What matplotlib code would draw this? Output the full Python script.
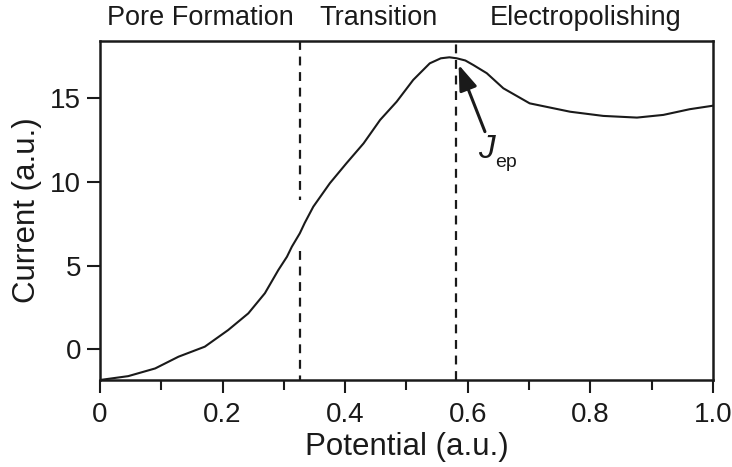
import numpy as np
import matplotlib.pyplot as plt
from matplotlib.ticker import MultipleLocator

plt.rcParams['font.family'] = ['Liberation Sans', 'DejaVu Sans']

potential = [0.0, 0.046, 0.090, 0.128, 0.171, 0.209, 0.242, 0.269, 0.291,
             0.305, 0.313, 0.326, 0.334, 0.348, 0.375, 0.402, 0.430, 0.457,
             0.484, 0.511, 0.538, 0.556, 0.570, 0.582, 0.596, 0.609, 0.631,
             0.658, 0.701, 0.767, 0.821, 0.876, 0.919, 0.962, 1.0]
current = [-1.83, -1.6, -1.14, -0.44, 0.16, 1.15, 2.15, 3.35, 4.74,
           5.53, 6.13, 6.93, 7.55, 8.52, 9.92, 11.11, 12.3, 13.7,
           14.79, 16.09, 17.08, 17.38, 17.44, 17.38, 17.25, 16.98, 16.49,
           15.59, 14.69, 14.19, 13.94, 13.84, 14.0, 14.34, 14.55]

# region boundaries and labels
boundaries = [0.326, 0.58]
regions = ['Pore Formation', 'Transition', 'Electropolishing']
region_x = [0.163, 0.455, 0.793]

ink = '#1a1a1a'
dash = (0, (4, 3))

fig = plt.figure(figsize=(7.32, 4.67), dpi=100)
ax = fig.add_axes([0.1366, 0.1863, 0.8374, 0.7265])

ax.plot(potential, current, color=ink, lw=1.5, solid_joinstyle='round')

# first boundary is broken where the curve crosses it
ax.plot([boundaries[0]] * 2, [18.43, 8.9], color=ink, lw=1.6, ls=dash)
ax.plot([boundaries[0]] * 2, [5.9, -1.83], color=ink, lw=1.6, ls=dash)
ax.axvline(boundaries[1], color=ink, lw=1.6, ls=dash)

ax.annotate('', xy=(0.585, 17.0), xytext=(0.628, 13.0),
            arrowprops=dict(arrowstyle='-|>,head_width=0.25,head_length=0.7',
                            color=ink, lw=2.2, mutation_scale=22,
                            shrinkA=0, shrinkB=0))
ax.text(0.616, 11.4, 'J', fontsize=24, fontstyle='italic', color=ink,
        ha='left', va='baseline')
ax.text(0.645, 10.9, 'ep', fontsize=14, color=ink, ha='left', va='baseline')

for label, xpos in zip(regions, region_x):
    ax.text(xpos, 1.028, label, transform=ax.get_xaxis_transform(),
            ha='center', va='bottom', fontsize=19.5, color=ink)

ax.set_xlim(0, 1.0)
ax.set_ylim(-1.83, 18.43)
ax.set_xticks([0, 0.2, 0.4, 0.6, 0.8, 1.0])
ax.set_xticklabels(['0', '0.2', '0.4', '0.6', '0.8', '1.0'])
ax.xaxis.set_minor_locator(MultipleLocator(0.1))
ax.set_yticks([0, 5, 10, 15])

ax.tick_params(axis='both', which='major', direction='out', length=9.5, width=1.5,
               labelsize=20, colors=ink)
ax.tick_params(axis='x', which='minor', direction='out', length=7, width=1.5,
               colors=ink)
ax.tick_params(axis='x', which='major', pad=6)
ax.tick_params(axis='y', which='major', pad=4)

for side in ax.spines.values():
    side.set_linewidth(1.8)
    side.set_color(ink)

ax.set_xlabel('Potential (a.u.)', fontsize=22.5, color=ink, labelpad=3)
ax.set_ylabel('Current (a.u.)', fontsize=22.5, color=ink, labelpad=6)

fig.savefig('out.png', dpi=100)
